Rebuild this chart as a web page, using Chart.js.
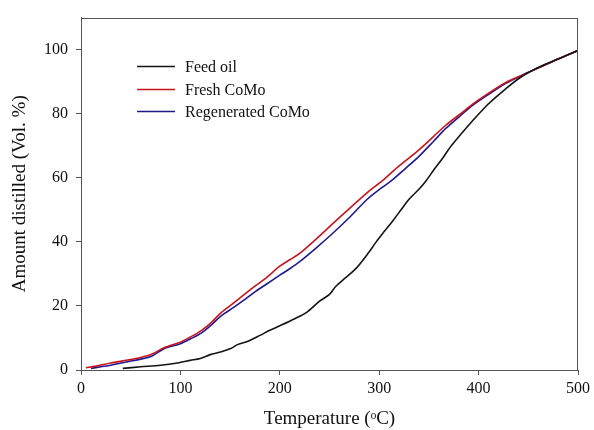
<!DOCTYPE html>
<html>
<head>
<meta charset="utf-8">
<script src="https://cdn.jsdelivr.net/npm/chart.js@4.4.1/dist/chart.umd.min.js"></script>
<style>
  html, body { margin: 0; padding: 0; background: #fff; }
  #wrap { width: 594px; height: 430px; }
</style>
</head>
<body>
<div id="wrap"><canvas id="c" width="594" height="430"></canvas></div>
<script>
// ---- data ----
const seriesLabels = ["Feed oil", "Fresh CoMo", "Regenerated CoMo"];

const feedTemp = [42, 60, 80, 97, 110, 120, 130, 140, 150, 158, 168, 180, 190, 200, 215, 227, 240, 250, 256, 265, 277, 290, 297, 305, 314, 322, 330, 340, 347, 355, 364, 372, 380, 394, 410, 427, 442, 460, 480, 500];
const feedVals = [0.5, 1.0, 1.5, 2.2, 3.0, 3.6, 4.8, 5.6, 6.6, 8.0, 9.0, 10.8, 12.4, 13.8, 16.0, 18.0, 21.5, 23.6, 26.0, 28.5, 31.8, 36.9, 40.0, 43.2, 46.7, 50.0, 53.3, 56.4, 59.0, 62.5, 66.2, 69.8, 72.8, 77.8, 83.1, 87.7, 91.3, 94.4, 97.1, 99.7];

const freshTemp = [5, 15, 30, 47, 60, 71, 84, 100, 110, 121, 131, 141, 154, 166, 176, 186, 200, 210, 220, 237, 253, 270, 288, 303, 320, 340, 355, 367, 384, 394, 409, 427, 445, 461, 480, 500];
const freshVals = [0.7, 1.2, 2.2, 3.1, 3.9, 4.9, 7.0, 8.7, 10.3, 12.3, 14.8, 17.9, 21.0, 24.0, 26.4, 28.7, 32.4, 34.4, 36.4, 41.0, 45.6, 50.4, 55.4, 59.0, 63.7, 68.7, 73.0, 76.4, 80.5, 83.0, 86.2, 89.7, 92.2, 94.4, 97.1, 99.7];

const regenTemp = [10, 20, 30, 47, 60, 71, 84, 100, 110, 121, 131, 141, 154, 166, 176, 186, 200, 210, 220, 237, 253, 270, 288, 303, 312, 326, 340, 355, 367, 384, 394, 409, 427, 445, 461, 480, 500];
const regenVals = [0.5, 1.0, 1.5, 2.6, 3.4, 4.3, 6.7, 8.2, 9.7, 11.5, 14.0, 16.9, 19.6, 22.3, 24.6, 26.7, 29.6, 31.6, 33.8, 38.2, 42.6, 47.6, 53.3, 57.0, 59.0, 62.8, 66.7, 71.5, 75.4, 80.0, 82.6, 85.8, 89.4, 92.2, 94.4, 97.1, 99.7];

const xTicks = [0, 100, 200, 300, 400, 500];
const yTicks = [0, 20, 40, 60, 80, 100];

const xTitle = "Temperature (ᵒC)";
const yTitle = "Amount distilled (Vol. %)";

// ---- chart ----
const toPts = (xs, ys) => xs.map((x, i) => ({ x: x, y: ys[i] }));
const colors = ["#141414", "#c8141e", "#1e1a8c"];
const FONT = "'Liberation Serif', 'Times New Roman', serif";

const frame = {
  id: 'frame',
  afterDatasetsDraw(chart) {
    const { ctx, chartArea: a } = chart;
    ctx.save();
    ctx.strokeStyle = '#555';
    ctx.lineWidth = 1;
    ctx.strokeRect(Math.round(a.left) + 0.5, Math.round(a.top) + 0.5, Math.round(a.right - a.left) - 1, Math.round(a.bottom - a.top));
    ctx.restore();
  }
};

const legendPlugin = {
  id: 'innerLegend',
  afterDraw(chart) {
    const { ctx } = chart;
    ctx.save();
    ctx.font = "16px " + FONT;
    ctx.textBaseline = 'middle';
    ctx.textAlign = 'left';
    chart.data.datasets.forEach((ds, i) => {
      const y = Math.round(66 + i * 22.5) + 0.5;
      ctx.strokeStyle = ds.borderColor;
      ctx.lineWidth = 1.6;
      ctx.beginPath();
      ctx.moveTo(137, y);
      ctx.lineTo(175, y);
      ctx.stroke();
      ctx.fillStyle = '#111';
      ctx.fillText(ds.label, 185, y + 1);
    });
    ctx.restore();
  }
};

new Chart(document.getElementById('c'), {
  type: 'line',
  data: {
    datasets: [
      { label: seriesLabels[0], data: toPts(feedTemp, feedVals), borderColor: colors[0] },
      { label: seriesLabels[1], data: toPts(freshTemp, freshVals), borderColor: colors[1] },
      { label: seriesLabels[2], data: toPts(regenTemp, regenVals), borderColor: colors[2] }
    ].map(d => Object.assign(d, { borderWidth: 1.6, pointRadius: 0, tension: 0.3, fill: false }))
  },
  options: {
    responsive: false,
    animation: false,
    devicePixelRatio: 1,
    layout: { padding: { top: 13, right: 16, left: 0, bottom: 0 } },
    plugins: { legend: { display: false }, tooltip: { enabled: false } },
    scales: {
      x: {
        type: 'linear', min: 0, max: 500,
        afterBuildTicks: s => { s.ticks = xTicks.map(v => ({ value: v })); },
        afterFit: s => { s.height = 60; },
        grid: { display: true, drawOnChartArea: false, tickLength: 5, color: '#555', lineWidth: 1 },
        border: { display: true, color: '#555', width: 1 },
        ticks: { color: '#111', padding: 4, font: { family: FONT, size: 16 }, maxRotation: 0 },
        title: { display: true, text: xTitle, color: '#111', font: { family: FONT, size: 19 }, padding: { top: 0, bottom: 0 } }
      },
      y: {
        type: 'linear', min: 0, max: 110,
        afterBuildTicks: s => { s.ticks = yTicks.map(v => ({ value: v })); },
        afterFit: s => { s.width = 81; },
        grid: { display: true, drawOnChartArea: false, tickLength: 5, color: '#555', lineWidth: 1 },
        border: { display: true, color: '#555', width: 1 },
        ticks: { color: '#111', padding: 8, font: { family: FONT, size: 16 } },
        title: { display: true, text: yTitle, color: '#111', font: { family: FONT, size: 19 }, padding: { top: 9, bottom: 0 } }
      }
    }
  },
  plugins: [frame, legendPlugin]
});
</script>
</body>
</html>
